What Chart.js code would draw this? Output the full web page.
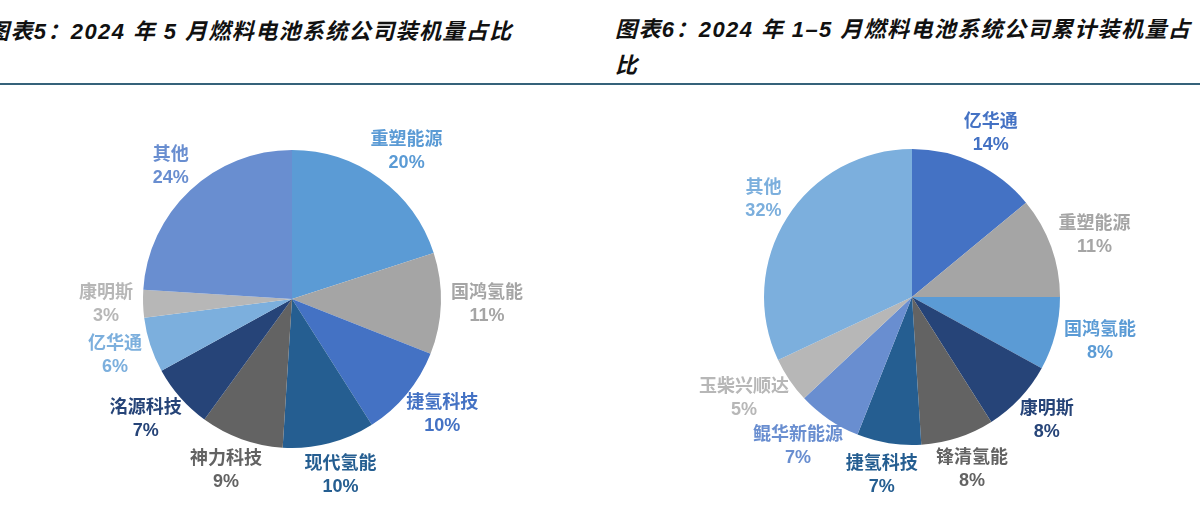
<!DOCTYPE html>
<html><head><meta charset="utf-8">
<script src="https://cdn.jsdelivr.net/npm/chart.js@4.4.1/dist/chart.umd.min.js"></script>
<style>
html,body{margin:0;padding:0;background:#fff;width:1200px;height:511px;overflow:hidden;position:relative;}
.title{position:absolute;font:italic bold 22px "Liberation Sans","Noto Sans CJK SC",sans-serif;color:#111;letter-spacing:1.4px;white-space:nowrap;line-height:36px;}
#t1{left:-13px;top:14px;}
#t2{left:615px;top:12px;}
.rule{position:absolute;left:0;top:83px;width:1200px;height:2px;background:#35627a;}
canvas{position:absolute;}
#c1{left:0;top:100px;}
#c2{left:600px;top:100px;}
</style></head><body>
<div class="title" id="t1">图表5：2024 年 5 月燃料电池系统公司装机量占比</div>
<div class="title" id="t2">图表6：2024 年 1–5 月燃料电池系统公司累计装机量占<br>比</div>
<div class="rule"></div>
<canvas id="c1" width="600" height="411"></canvas>
<canvas id="c2" width="600" height="411"></canvas>
<script>
// Chart 1: May 2024 share by company (%)
const mayCompanies = ['重塑能源','国鸿氢能','捷氢科技','现代氢能','神力科技','洺源科技','亿华通','康明斯','其他'];
const mayShares    = [20, 11, 10, 10, 9, 7, 6, 3, 24];
const mayColors    = ['#5B9BD5','#A5A5A5','#4472C4','#255E91','#636363','#264478','#7CAFDD','#B7B7B7','#698ED0'];

// Chart 2: Jan–May 2024 cumulative share by company (%)
const ytdCompanies = ['亿华通','重塑能源','国鸿氢能','康明斯','锋清氢能','捷氢科技','鲲华新能源','玉柴兴顺达','其他'];
const ytdShares    = [14, 11, 8, 8, 8, 7, 7, 5, 32];
const ytdColors    = ['#4472C4','#A5A5A5','#5B9BD5','#264478','#636363','#255E91','#698ED0','#B7B7B7','#7CAFDD'];

const LABEL_GAP = 10;
const LINE_H = 23;
const labelPlugin = {
  id: 'outLabels',
  afterDatasetsDraw(chart) {
    const ctx = chart.ctx;
    const meta = chart.getDatasetMeta(0);
    const ds = chart.data.datasets[0];
    ctx.save();
    ctx.font = 'bold 18px "Liberation Sans","Noto Sans CJK SC",sans-serif';
    ctx.textAlign = 'center';
    ctx.textBaseline = 'middle';
    meta.data.forEach((arc, i) => {
      const p = arc.getProps(['x','y','startAngle','endAngle','outerRadius'], true);
      const a = (p.startAngle + p.endAngle) / 2;
      const name = chart.data.labels[i];
      const pct = ds.data[i] + '%';
      const w = Math.max(ctx.measureText(name).width, ctx.measureText(pct).width);
      const h = LINE_H * 2;
      const c = Math.cos(a), s = Math.sin(a);
      const d = p.outerRadius + LABEL_GAP;
      const x = p.x + c * (d + w / 2);
      const y = p.y + s * (d + h / 2);
      ctx.fillStyle = ds.backgroundColor[i];
      ctx.fillText(name, x, y - LINE_H / 2);
      ctx.fillText(pct, x, y + LINE_H / 2);
    });
    ctx.restore();
  }
};

function makePie(id, labels, values, colors, padding) {
  return new Chart(document.getElementById(id), {
    type: 'pie',
    data: { labels: labels, datasets: [{ data: values, backgroundColor: colors, borderWidth: 0 }] },
    options: {
      responsive: false,
      animation: false,
      layout: { padding: padding },
      plugins: { legend: { display: false }, tooltip: { enabled: false } }
    },
    plugins: [labelPlugin]
  });
}

makePie('c1', mayCompanies, mayShares, mayColors, { left: 143, right: 159, top: 50, bottom: 63 });
makePie('c2', ytdCompanies, ytdShares, ytdColors, { left: 164, right: 140, top: 49, bottom: 66 });
</script>
</body></html>
